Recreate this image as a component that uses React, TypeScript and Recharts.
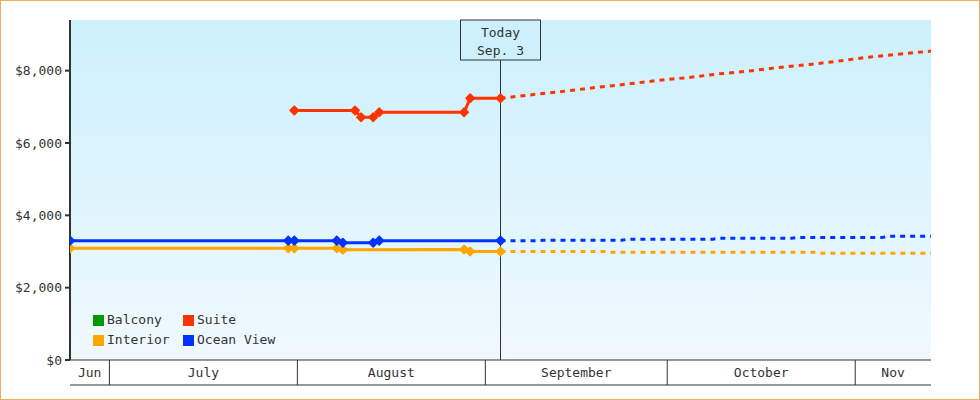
import React from "react";
import { CartesianGrid, Legend, Line, LineChart, ReferenceLine, XAxis, YAxis } from "recharts";

const FONT = '"DejaVu Sans Mono", monospace';
const INK = "#333333";

// days counted from Jul 1 (Jul 1 = 0)
const dayDomain = [-7, 135];
const todayDay = 64;
const todayLines = ["Today", "Sep. 3"];

const monthNames = ["Jun", "July", "August", "September", "October", "Nov"];
const monthStarts = [-7, -0.5, 30.5, 61.5, 91.5, 122.5];

const priceTicks = [0, 2000, 4000, 6000, 8000];
const priceMax = 9400;

const seriesNames = ["Balcony", "Suite", "Interior", "Ocean View"];
const seriesColors = ["#009900", "#ff3300", "#ffa500", "#0033ff"];

const suiteDays = [30, 40, 41, 43, 44, 58, 59, 64];
const suitePrices = [6900, 6900, 6710, 6710, 6850, 6850, 7235, 7235];
const suiteForecastDays = [64, 70, 75, 80, 85, 90, 95, 100, 105, 110, 115, 120, 125, 130, 135];
const suiteForecastPrices = [7235, 7350, 7440, 7540, 7630, 7730, 7810, 7910, 7990, 8090, 8170, 8270, 8380, 8460, 8540];

const interiorDays = [-7, 29, 30, 37, 38, 58, 59, 64];
const interiorPrices = [3090, 3090, 3090, 3090, 3050, 3055, 3000, 3000];
const interiorForecastDays = [64, 81, 82, 116, 117, 135];
const interiorForecastPrices = [3000, 3000, 2980, 2980, 2950, 2950];

const oceanDays = [-7, 29, 30, 37, 38, 43, 44, 64];
const oceanPrices = [3300, 3300, 3300, 3300, 3240, 3240, 3300, 3300];
const oceanForecastDays = [64, 70, 71, 84, 85, 99, 100, 112, 113, 127, 128, 135];
const oceanForecastPrices = [3300, 3300, 3310, 3310, 3340, 3340, 3365, 3365, 3390, 3390, 3420, 3420];

const toRows = (days: number[], prices: number[]) => days.map((day, i) => ({ day, price: prices[i] }));

const monthEdges = monthStarts.slice(1);
const monthMids = monthStarts.map((s, i) => (s + (monthStarts[i + 1] ?? dayDomain[1])) / 2);
const monthTicks = [dayDomain[0], ...monthEdges, ...monthMids].sort((a, b) => a - b);

function MonthTick(props: any) {
  const { x, y, payload, width } = props;
  if (payload.value === dayDomain[0]) {
    // bottom rule of the month band, spanning the axis width
    return <line x1={x} x2={x + (width || 0)} y1={y + 25} y2={y + 25} stroke={INK} />;
  }
  const mid = monthMids.indexOf(payload.value);
  if (mid >= 0) {
    return (
      <text x={x} y={y + 17} textAnchor="middle" fontFamily={FONT} fontSize={13} fill={INK}>
        {monthNames[mid]}
      </text>
    );
  }
  return <line x1={x} x2={x} y1={y} y2={y + 25} stroke={INK} />;
}

function TodayTag(props: any) {
  const vb = props.viewBox || {};
  const x = vb.x ?? 0;
  const y = vb.y ?? 0;
  return (
    <g>
      <rect x={x - 40} y={y} width={80} height={40} fill="#cdf0fc" stroke={INK} />
      {todayLines.map((t, i) => (
        <text key={t} x={x} y={y + 17 + i * 18} textAnchor="middle" fontFamily={FONT} fontSize={13} fill={INK}>
          {t}
        </text>
      ))}
    </g>
  );
}

const diamond = (color: string) => (props: any) => {
  const { cx, cy, index } = props;
  if (cx == null || cy == null) return <g key={`e-${index}`} />;
  const r = 4.2;
  return (
    <path
      key={`d-${index}`}
      d={`M${cx},${cy - r}L${cx + r},${cy}L${cx},${cy + r}L${cx - r},${cy}Z`}
      fill={color}
      stroke={color}
      strokeWidth={1.6}
      strokeLinejoin="round"
    />
  );
};

function LegendGrid(props: any) {
  const payload: any[] = props.payload || [];
  const items = seriesNames
    .map((n) => payload.find((p) => p.value === n))
    .filter(Boolean);
  return (
    <div
      style={{
        display: "grid",
        gridTemplateColumns: "90px auto",
        fontFamily: FONT,
        fontSize: 13,
        color: INK,
        lineHeight: "20px",
      }}
    >
      {items.map((it: any) => (
        <div key={it.value} style={{ display: "flex", alignItems: "center" }}>
          <span style={{ width: 11, height: 11, background: it.color, marginRight: 3, display: "inline-block" }} />
          {it.value}
        </div>
      ))}
    </div>
  );
}

export default function App() {
  const [balcony, suite, interior, ocean] = seriesColors;
  return (
    <div style={{ position: "relative", width: 980, height: 400, background: "#fff" }}>
      <style>{"body{margin:0}"}</style>
      <LineChart width={980} height={400} margin={{ top: 20, right: 49, bottom: 15, left: 0 }}>
        <defs>
          <linearGradient id="plotBg" x1="0" y1="0" x2="0" y2="1">
            <stop offset="0%" stopColor="#ccf0fc" />
            <stop offset="100%" stopColor="#f0f9fe" />
          </linearGradient>
        </defs>
        <CartesianGrid horizontal={false} vertical={false} fill="url(#plotBg)" xAxisId="months" />
        <XAxis
          xAxisId="months"
          dataKey="day"
          type="number"
          domain={dayDomain}
          allowDataOverflow
          ticks={monthTicks}
          interval={0}
          tick={<MonthTick />}
          tickLine={false}
          tickSize={0}
          tickMargin={0}
          height={25}
          axisLine={{ stroke: INK }}
        />
        <YAxis
          type="number"
          domain={[0, priceMax]}
          allowDataOverflow
          ticks={priceTicks}
          interval={0}
          width={70}
          tickSize={5}
          tickMargin={3}
          tickFormatter={(v: number) => `$${v.toLocaleString("en-US")}`}
          tick={{ fontFamily: FONT, fontSize: 13, fill: INK }}
          axisLine={{ stroke: INK, strokeWidth: 2 }}
          tickLine={{ stroke: INK, strokeWidth: 2 }}
        />
        <Legend
          layout="horizontal"
          verticalAlign="middle"
          align="center"
          content={<LegendGrid />}
          wrapperStyle={{ position: "absolute", left: 93, top: 310, width: 220 }}
        />
        <ReferenceLine xAxisId="months" x={todayDay} stroke={INK} label={<TodayTag />} />
        <Line xAxisId="months" name={seriesNames[0]} data={[]} dataKey="price" stroke={balcony} legendType="square" isAnimationActive={false} />
        <Line
          xAxisId="months"
          name={seriesNames[1]}
          data={toRows(suiteDays, suitePrices)}
          dataKey="price"
          stroke={suite}
          strokeWidth={3}
          dot={diamond(suite)}
          activeDot={false}
          legendType="square"
          isAnimationActive={false}
        />
        <Line
          xAxisId="months"
          name={seriesNames[2]}
          data={toRows(interiorDays, interiorPrices)}
          dataKey="price"
          stroke={interior}
          strokeWidth={3}
          dot={diamond(interior)}
          activeDot={false}
          legendType="square"
          isAnimationActive={false}
        />
        <Line
          xAxisId="months"
          name={seriesNames[3]}
          data={toRows(oceanDays, oceanPrices)}
          dataKey="price"
          stroke={ocean}
          strokeWidth={3}
          dot={diamond(ocean)}
          activeDot={false}
          legendType="square"
          isAnimationActive={false}
        />
        <Line
          xAxisId="months"
          name="Suite forecast"
          data={toRows(suiteForecastDays, suiteForecastPrices)}
          dataKey="price"
          stroke={suite}
          strokeWidth={3}
          strokeDasharray="5 5"
          dot={false}
          activeDot={false}
          legendType="none"
          isAnimationActive={false}
        />
        <Line
          xAxisId="months"
          name="Interior forecast"
          data={toRows(interiorForecastDays, interiorForecastPrices)}
          dataKey="price"
          stroke={interior}
          strokeWidth={3}
          strokeDasharray="5 5"
          dot={false}
          activeDot={false}
          legendType="none"
          isAnimationActive={false}
        />
        <Line
          xAxisId="months"
          name="Ocean View forecast"
          data={toRows(oceanForecastDays, oceanForecastPrices)}
          dataKey="price"
          stroke={ocean}
          strokeWidth={3}
          strokeDasharray="5 5"
          dot={false}
          activeDot={false}
          legendType="none"
          isAnimationActive={false}
        />
      </LineChart>
      <div
        style={{
          position: "absolute",
          inset: 0,
          border: "1px solid #f0ad60",
          boxSizing: "border-box",
          pointerEvents: "none",
        }}
      />
    </div>
  );
}
